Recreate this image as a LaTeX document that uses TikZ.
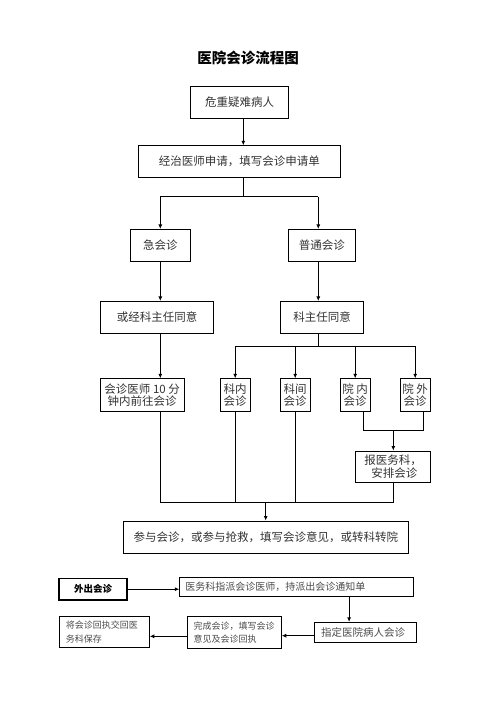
\documentclass[tikz,border=0pt]{standalone}
\usepackage{fontspec}
\setmainfont{Noto Sans CJK SC}
\usetikzlibrary{arrows.meta}
\definecolor{txt}{HTML}{333333}
\definecolor{txtl}{HTML}{4A4A4A}
\tikzset{
  box/.style={draw=black, line width=0.8pt, inner sep=0pt, text=txt, font=\fontsize{11.5}{13}\selectfont, align=center},
  sbox/.style={draw=black, line width=0.8pt, inner xsep=6.5pt, inner ysep=0pt, text=txtl, font=\fontsize{9}{13.5}\selectfont, align=left, anchor=west},
  ln/.style={line width=0.8pt},
  arr/.style={line width=0.8pt, -{Latex[length=4.5pt,width=4pt]}},
}
\begin{document}
\begin{tikzpicture}[x=1pt,y=-1pt]
\useasboundingbox (0,0) rectangle (496,702);
\node[font=\fontsize{14.5}{16}\selectfont\bfseries] (title) at (248,58) {医院会诊流程图};

\node[box, minimum width=97.6, minimum height=31.6] (b1) at (239.5,102.5) {危重疑难病人};
\node[box, minimum width=202, minimum height=31.3] (b2) at (239.3,161.3) {经治医师申请，填写会诊申请单};
\node[box, minimum width=60, minimum height=32] (j1) at (160.3,245.3) {急会诊};
\node[box, minimum width=67, minimum height=32] (j2) at (321.8,245.3) {普通会诊};
\node[box, minimum width=113.4, minimum height=32] (k1) at (157,317.3) {或经科主任同意};
\node[box, minimum width=83.4, minimum height=32] (k2) at (322,317.3) {科主任同意};
\node[box, minimum width=83.7, minimum height=32.6, font=\fontsize{11.5}{12.5}\selectfont] (r1) at (142.2,395) {会诊医师 10 分\\钟内前往会诊};
\node[box, minimum width=29.7, minimum height=32.6, font=\fontsize{11.5}{12.5}\selectfont] (r2) at (235.2,395) {科内\\会诊};
\node[box, minimum width=29.7, minimum height=32.6, font=\fontsize{11.5}{12.5}\selectfont] (r3) at (295.2,395) {科间\\会诊};
\node[box, minimum width=29.7, minimum height=32.6, font=\fontsize{11.5}{12.5}\selectfont] (r4) at (355.2,395) {院 内\\会诊};
\node[box, minimum width=29.7, minimum height=32.6, font=\fontsize{11.5}{12.5}\selectfont] (r5) at (415.2,395) {院 外\\会诊};
\node[box, minimum width=75.4, minimum height=31.7, font=\fontsize{11.5}{13}\selectfont] (s) at (393,466.8) {报医务科，\\\ 安排会诊};
\node[box, minimum width=285, minimum height=32.7] (f) at (265.8,537.3) {参与会诊，或参与抢救，填写会诊意见，或转科转院};

% connectors
\coordinate (c1) at (243.3,196.7);
\draw[arr] ([xshift=3.8pt]b1.south) -- ([xshift=3.8pt]b1.south |- b2.north);
\draw[ln] ([xshift=4pt]b2.south) -- ([xshift=4pt]b2.south |- c1);
\draw[ln] (c1 -| j1.north) -- ([xshift=-3.5pt]c1 -| j2.north);
\draw[arr] (c1 -| j1.north) -- (j1.north);
\draw[arr] ([xshift=-3.5pt]c1 -| j2.north) -- ([xshift=-3.5pt]j2.north);
\draw[arr] (j1.south) -- (j1.south |- k1.north);
\draw[arr] ([xshift=-3.5pt]j2.south) -- ([xshift=-3.5pt]j2.south |- k2.north);
\draw[arr] (j1.south |- k1.south) -- (j1.south |- r1.north);

\coordinate (d1) at (318.3,346);
\draw[ln] ([xshift=-3.7pt]k2.south) -- (d1);
\draw[ln] (d1 -| r2.north) -- (d1 -| r5.north);
\foreach \n in {r2,r3,r4,r5} \draw[arr] (d1 -| \n.north) -- (\n.north);

\coordinate (e1) at (393.3,430);
\draw[ln] ([xshift=-6.7pt]r4.south east) -- ([xshift=-6.7pt]r4.south east |- e1) -- ([xshift=-6.7pt]r5.south east |- e1) -- ([xshift=-6.7pt]r5.south east);
\draw[arr] (e1) -- (e1 |- s.north);

\coordinate (m1) at (265.7,502.3);
\draw[ln] (j1.south |- r1.south) -- (j1.south |- m1) -- (e1 |- m1) -- (e1 |- s.south);
\draw[ln] (r2.south) -- (r2.south |- m1);
\draw[ln] (r3.south) -- (r3.south |- m1);
\draw[arr] (m1) -- (m1 |- f.north);

% bottom section
\node[draw=black, line width=1.5pt, minimum width=68, minimum height=21.7, inner sep=0pt, font=\fontsize{9.5}{11}\selectfont\bfseries] (o1) at (93,589.2) {外出会诊};
\node[sbox, minimum height=18.7, inner xsep=5.7pt, text width=222, font=\fontsize{10}{12}\selectfont] (o2) at (179.3,586.7) {医务科指派会诊医师，持派出会诊通知单};
\node[sbox, minimum height=20.4, text width=88.4, font=\fontsize{10.5}{12}\selectfont] (o3) at (314.3,632.5) {指定医院病人会诊};
\node[sbox, minimum height=31.3, text width=81.3] (o4) at (186.7,632.3) {完成会诊，填写会诊\\意见及会诊回执};
\node[sbox, minimum height=30.6, text width=77] (o5) at (59,632) {将会诊回执交回医\\务科保存};

\draw[arr] (o1.east) -- (o1.east -| o2.west);
\draw[arr] ([xshift=52.7pt]o2.south) -- ([xshift=52.7pt]o2.south |- o3.north);
\draw[arr] ([yshift=-3.2pt]o3.west) -- ([yshift=-3.2pt]o3.west -| o4.east);
\draw[arr] ([yshift=-4pt]o4.west) -- ([yshift=-4pt]o4.west -| o5.east);
\end{tikzpicture}
\end{document}
